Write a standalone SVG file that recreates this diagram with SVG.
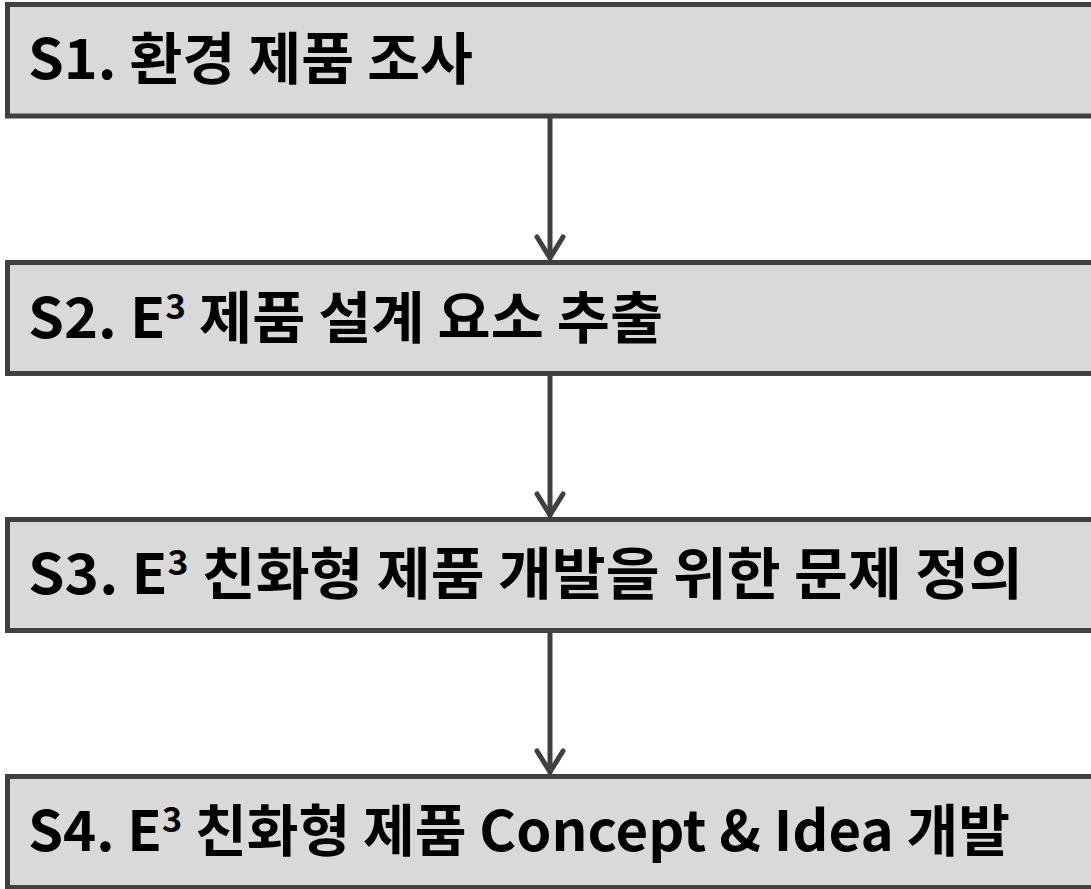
<svg xmlns="http://www.w3.org/2000/svg" width="1091" height="889" viewBox="0 0 1091 889">
<style>
.box{fill:#d9d9d9;stroke:#404040;stroke-width:5}
.lbl{font-family:"Noto Sans CJK KR","Malgun Gothic",sans-serif;font-weight:bold;font-size:56px;fill:#000}
.sup{font-size:34px}
.conn{fill:none;stroke:#404040;stroke-width:5;stroke-linecap:round;stroke-linejoin:round}
</style>
<rect x="0" y="0" width="1091" height="889" fill="#fff"/>
<g id="connectors">
<line class="conn" x1="550" y1="118" x2="550" y2="258"/>
<polyline class="conn" points="537,237 550,258 563,237"/>
<line class="conn" x1="550" y1="375" x2="550" y2="515"/>
<polyline class="conn" points="537,494 550,515 563,494"/>
<line class="conn" x1="550" y1="632" x2="550" y2="772"/>
<polyline class="conn" points="537,751 550,772 563,751"/>
</g>
<g id="s1">
<rect class="box" x="7.5" y="4.5" width="1086" height="111.5"/>
<text class="lbl" x="28" y="79" textLength="445" lengthAdjust="spacingAndGlyphs">S1. 환경 제품 조사</text>
</g>
<g id="s2">
<rect class="box" x="7.5" y="262.5" width="1086" height="111"/>
<text class="lbl" x="28" y="338" textLength="635" lengthAdjust="spacingAndGlyphs">S2. E<tspan class="sup" dy="-19">3</tspan><tspan dy="19"> 제품 설계 요소 추출</tspan></text>
</g>
<g id="s3">
<rect class="box" x="7.5" y="519.5" width="1086" height="111"/>
<text class="lbl" x="28" y="594" textLength="995" lengthAdjust="spacingAndGlyphs">S3. E<tspan class="sup" dy="-19">3</tspan><tspan dy="19"> 친화형 제품 개발을 위한 문제 정의</tspan></text>
</g>
<g id="s4">
<rect class="box" x="7.5" y="776.5" width="1086" height="111"/>
<text class="lbl" x="28" y="851" textLength="982" lengthAdjust="spacingAndGlyphs">S4. E<tspan class="sup" dy="-19">3</tspan><tspan dy="19"> 친화형 제품 Concept &amp; Idea 개발</tspan></text>
</g>
</svg>
